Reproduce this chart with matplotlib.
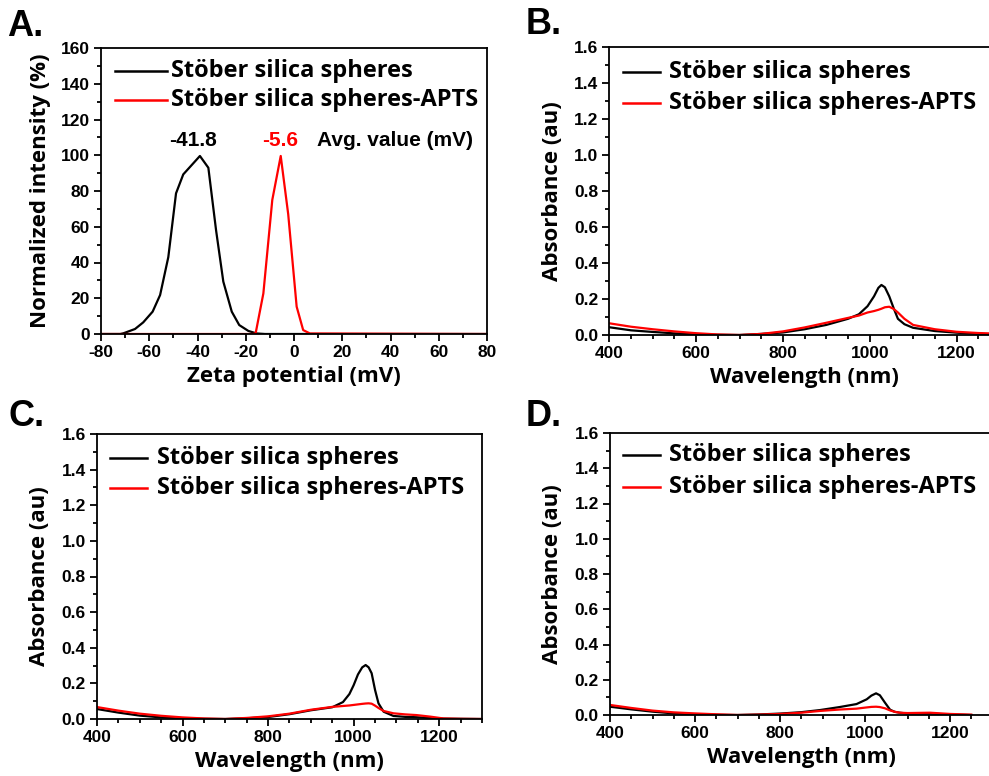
import numpy as np
import matplotlib.pyplot as plt
from matplotlib.ticker import MultipleLocator

plt.rcParams["axes.unicode_minus"] = False

# zeta potential distributions (mV, normalized intensity %)
zeta_x_bare = [-80, -72, -70.7, -65.9, -62.5, -58.6, -55.5, -52.1, -48.9, -45.9, -39.0,
               -35.5, -32.3, -29.3, -25.8, -22.7, -18.9, -15.5, -12, 80]
zeta_y_bare = [0, 0, 0.4, 2.8, 6.5, 12.5, 21.8, 43, 78.7, 89.3, 99.6,
               93, 58, 29.3, 12.5, 5, 1.7, 0.3, 0, 0]
zeta_x_apts = [-80, -17, -15.9, -12.7, -9.0, -5.5, -2.4, 1.1, 3.8, 6.6, 80]
zeta_y_apts = [0, 0, 0.4, 22.7, 75, 99.6, 67, 15.3, 2.2, 0.3, 0]

# absorbance spectra
wl_b = [400, 450, 500, 550, 600, 650, 700, 750, 800, 850, 900, 950, 975, 995, 1010, 1020,
        1027, 1035, 1045, 1055, 1065, 1080, 1100, 1150, 1200, 1250, 1300]
abs_b_bare = [0.043, 0.026, 0.017, 0.009, 0.003, 0.001, 0.0, 0.006, 0.014, 0.032, 0.056, 0.09,
              0.115, 0.16, 0.215, 0.262, 0.278, 0.265, 0.215, 0.15, 0.09, 0.06, 0.04, 0.022,
              0.013, 0.006, 0.003]
abs_b_apts = [0.065, 0.046, 0.032, 0.02, 0.01, 0.003, 0.0, 0.006, 0.02, 0.042, 0.068, 0.095,
              0.108, 0.125, 0.133, 0.14, 0.146, 0.154, 0.157, 0.145, 0.125, 0.09, 0.056, 0.032,
              0.018, 0.011, 0.007]

wl_c = [400, 450, 500, 550, 600, 650, 700, 750, 800, 850, 900, 950, 975, 990, 1000, 1010,
        1020, 1028, 1035, 1042, 1050, 1058, 1070, 1093, 1120, 1147, 1180, 1210, 1250, 1300]
abs_c_bare = [0.056, 0.036, 0.019, 0.009, 0.004, 0.001, 0.0, 0.004, 0.011, 0.027, 0.049, 0.066,
              0.095, 0.14, 0.19, 0.25, 0.29, 0.303, 0.29, 0.257, 0.163, 0.088, 0.041, 0.017,
              0.012, 0.01, 0.005, 0.002, 0.001, 0.0]
abs_c_apts = [0.067, 0.047, 0.03, 0.018, 0.009, 0.003, 0.0, 0.006, 0.015, 0.03, 0.052, 0.068,
              0.073, 0.076, 0.079, 0.082, 0.085, 0.087, 0.088, 0.086, 0.075, 0.062, 0.045, 0.032,
              0.026, 0.022, 0.013, 0.003, 0.001, 0.0]

wl_d = [400, 450, 500, 550, 600, 650, 700, 750, 800, 850, 894, 940, 980, 1004, 1015, 1026,
        1035, 1047, 1059, 1070, 1082, 1100, 1153, 1200, 1250]
abs_d_bare = [0.047, 0.032, 0.019, 0.009, 0.004, 0.001, 0.0, 0.003, 0.008, 0.016, 0.028, 0.045,
              0.062, 0.089, 0.11, 0.123, 0.112, 0.07, 0.03, 0.018, 0.013, 0.008, 0.008, 0.003, 0.0]
abs_d_apts = [0.057, 0.04, 0.025, 0.015, 0.009, 0.004, 0.0, 0.002, 0.006, 0.013, 0.023, 0.031,
              0.036, 0.043, 0.046, 0.047, 0.045, 0.038, 0.026, 0.018, 0.013, 0.011, 0.013, 0.006,
              0.002]

labels = ["Stöber silica spheres", "Stöber silica spheres-APTS"]

W, H = 989, 776
fig = plt.figure(figsize=(W / 100, H / 100), dpi=100)

TICKFONT = dict(family="Liberation Sans", weight="bold", size=12.5)
LABELFONT = dict(family="Open Sans", weight="bold", size=16)
LEGFONT = dict(family="Open Sans", weight="bold", size=17)
NOTEFONT = dict(family="Liberation Sans", weight="bold", size=15)


def px_rect(left, top, right, bottom):
    return [left / W, 1 - bottom / H, (right - left) / W, (bottom - top) / H]


def style(ax, xmaj, xmin, ymaj, ymin, yfmt=None):
    for s in ax.spines.values():
        s.set_linewidth(1.3)
    ax.xaxis.set_major_locator(MultipleLocator(xmaj))
    ax.xaxis.set_minor_locator(MultipleLocator(xmin))
    ax.yaxis.set_major_locator(MultipleLocator(ymaj))
    ax.yaxis.set_minor_locator(MultipleLocator(ymin))
    if yfmt:
        ax.yaxis.set_major_formatter(plt.FormatStrFormatter(yfmt))
    ax.tick_params(which="both", direction="out", top=False, right=False, width=1.3)
    ax.tick_params(which="major", length=5, pad=3)
    ax.tick_params(which="minor", length=3)
    for t in ax.get_xticklabels() + ax.get_yticklabels():
        t.set(**TICKFONT)


def legend(x0, x1, xt, y0, y1):
    # hand-placed legend rows in pixel space
    for y, c, lab in [(y0, "black", labels[0]), (y1, "red", labels[1])]:
        fig.add_artist(plt.Line2D([x0 / W, x1 / W], [1 - y / H, 1 - y / H], color=c, lw=1.8))
        fig.text(xt / W, 1 - y / H, lab, va="center", ha="left", **LEGFONT)


def panel_label(x, y, s):
    fig.text(x / W, 1 - y / H, s, family="Liberation Sans", weight="bold", size=26,
             va="center", ha="left")


# A: zeta potential
axA = fig.add_axes(px_rect(101, 48, 487, 334))
axA.plot(zeta_x_bare, zeta_y_bare, color="black", lw=1.6)
axA.plot(zeta_x_apts, zeta_y_apts, color="red", lw=1.6)
axA.set_xlim(-80, 80)
axA.set_ylim(0, 160)
style(axA, 20, 10, 20, 10)
axA.set_xlabel("Zeta potential (mV)", labelpad=4, **LABELFONT)
axA.set_ylabel("Normalized intensity (%)", labelpad=7, **LABELFONT)
axA.text(-41.8, 108.5, "-41.8", ha="center", va="center", **NOTEFONT)
axA.text(-5.6, 108.5, "-5.6", ha="center", va="center", color="red", **NOTEFONT)
axA.text(9.4, 108.5, "Avg. value (mV)", ha="left", va="center", **NOTEFONT)
legend(115, 167, 171, 71, 100)
panel_label(7, 27, "A.")

# B, C, D: absorbance spectra
spectra = [
    (px_rect(609.3, 47, 999.9, 335), wl_b, abs_b_bare, abs_b_apts,
     (623, 660, 669, 72, 103), (526, 25, "B.")),
    (px_rect(97, 434, 482, 719), wl_c, abs_c_bare, abs_c_apts,
     (110, 147, 157, 458, 488), (8, 416, "C.")),
    (px_rect(610, 433, 992.5, 715), wl_d, abs_d_bare, abs_d_apts,
     (623, 660, 669, 455, 487), (526, 417, "D.")),
]
for rect, wl, a_bare, a_apts, leg, plab in spectra:
    ax = fig.add_axes(rect)
    ax.plot(wl, a_bare, color="black", lw=1.6)
    ax.plot(wl, a_apts, color="red", lw=1.6)
    ax.set_xlim(400, 1300)
    ax.set_ylim(0, 1.6)
    style(ax, 200, 50, 0.2, 0.1, "%.1f")
    ax.set_xlabel("Wavelength (nm)", labelpad=4, **LABELFONT)
    ax.set_ylabel("Absorbance (au)", labelpad=8, **LABELFONT)
    legend(*leg)
    panel_label(*plab)

fig.savefig("out.png", dpi=100)
